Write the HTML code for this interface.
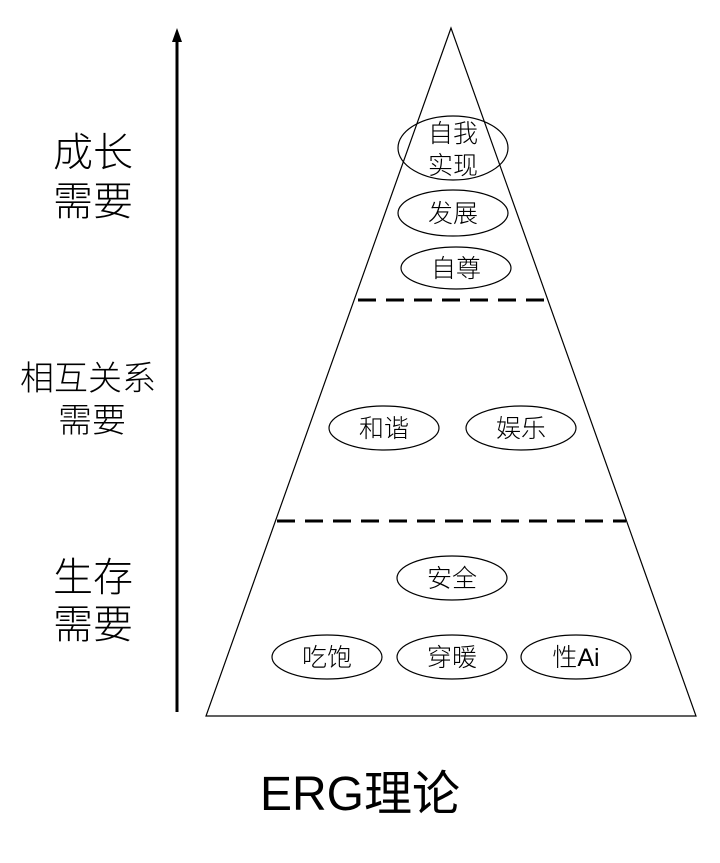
<!DOCTYPE html>
<html><head><meta charset="utf-8"><style>
html,body{margin:0;padding:0;background:#fff;}
</style></head><body>
<svg width="720" height="858" viewBox="0 0 720 858" xmlns="http://www.w3.org/2000/svg" font-family="'Liberation Sans','Noto Sans CJK SC',sans-serif">
<rect width="720" height="858" fill="#fff"/>
<line x1="177" y1="40" x2="177" y2="712" stroke="#000" stroke-width="3"/>
<polygon points="177,28 172,42 182,42" fill="#000"/>
<polygon points="451,28 206,716 696,716" fill="none" stroke="#000" stroke-width="1.2"/>
<line x1="358" y1="300" x2="548" y2="300" stroke="#000" stroke-width="3" stroke-dasharray="18,10"/>
<line x1="277" y1="521" x2="626" y2="521" stroke="#000" stroke-width="3" stroke-dasharray="18,10"/>
<g fill="none" stroke="#000" stroke-width="1.2">
<ellipse cx="453" cy="148" rx="55" ry="32"/>
<ellipse cx="453" cy="213" rx="55" ry="23"/>
<ellipse cx="456" cy="268" rx="55" ry="21"/>
<ellipse cx="384" cy="428" rx="55" ry="22"/>
<ellipse cx="521" cy="428" rx="55" ry="22"/>
<ellipse cx="452" cy="578" rx="55" ry="22"/>
<ellipse cx="327" cy="657" rx="55" ry="22"/>
<ellipse cx="452" cy="657" rx="55" ry="22"/>
<ellipse cx="576" cy="657" rx="55" ry="22"/>
</g>
<g font-size="25" text-anchor="middle" fill="#000" font-weight="300">
<text x="453" y="142">自我</text>
<text x="453" y="174">实现</text>
<text x="453" y="222">发展</text>
<text x="456" y="277">自尊</text>
<text x="384" y="437">和谐</text>
<text x="521" y="437">娱乐</text>
<text x="452" y="587">安全</text>
<text x="327" y="666">吃饱</text>
<text x="452" y="666">穿暖</text>
<text x="576" y="666">性Ai</text>
</g>
<g font-size="40" text-anchor="middle" fill="#000" font-weight="300">
<text x="93" y="166">成长</text>
<text x="93" y="215">需要</text>
<text x="93" y="591">生存</text>
<text x="93" y="638">需要</text>
</g>
<g font-size="34" text-anchor="middle" fill="#000" font-weight="300">
<text x="88" y="390">相互关系</text>
<text x="92" y="432">需要</text>
</g>
<text x="360" y="810" font-size="48" text-anchor="middle" fill="#000">ERG理论</text>
</svg>
</body></html>
